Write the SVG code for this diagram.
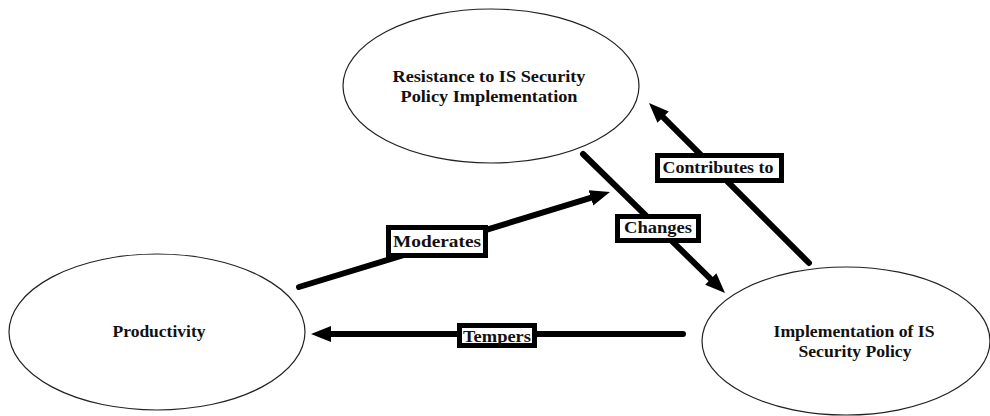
<svg xmlns="http://www.w3.org/2000/svg" width="990" height="416" viewBox="0 0 990 416">
<style>
.node{fill:#fff;stroke:#222;stroke-width:1.2}
.nt{font-family:"Liberation Serif","Times New Roman",serif;font-weight:bold;font-size:17px;fill:#111;text-anchor:middle}
.edge{stroke:#000;stroke-width:6;fill:none;stroke-linecap:round}
.lbox{fill:#fff;stroke:#000;stroke-width:5}
.lt{font-family:"Liberation Serif","Times New Roman",serif;font-weight:bold;font-size:17px;fill:#111;text-anchor:middle}
</style>
<defs>
<marker id="ah" markerUnits="userSpaceOnUse" markerWidth="22" markerHeight="18" refX="4" refY="8" orient="auto">
<path d="M0,0 L20,8 L0,16 z" fill="#000"/>
</marker>
</defs>
<rect width="990" height="416" fill="#fff"/>
<g id="node-resistance">
<ellipse class="node" cx="491" cy="86" rx="148" ry="77"/>
<text class="nt" x="489" y="82" textLength="193" lengthAdjust="spacingAndGlyphs">Resistance to IS Security</text>
<text class="nt" x="489" y="102" textLength="177" lengthAdjust="spacingAndGlyphs">Policy Implementation</text>
</g>
<g id="node-productivity">
<ellipse class="node" cx="157" cy="332" rx="148" ry="78"/>
<text class="nt" x="159" y="337" textLength="93" lengthAdjust="spacingAndGlyphs">Productivity</text>
</g>
<g id="node-implementation">
<ellipse class="node" cx="846" cy="341" rx="144" ry="74"/>
<text class="nt" x="854" y="337" textLength="161" lengthAdjust="spacingAndGlyphs">Implementation of IS</text>
<text class="nt" x="855" y="357" textLength="113" lengthAdjust="spacingAndGlyphs">Security Policy</text>
</g>
<g id="connectors">
<g id="edge-moderates">
<line class="edge" x1="299" y1="287" x2="594.7" y2="196.7" marker-end="url(#ah)"/>
<rect class="lbox" x="388.5" y="227.5" width="97" height="28"/>
<text class="lt" x="437" y="247" textLength="88" lengthAdjust="spacingAndGlyphs">Moderates</text>
</g>
<g id="edge-changes">
<line class="edge" x1="583" y1="154" x2="713.6" y2="281.8" marker-end="url(#ah)"/>
<rect class="lbox" x="617.5" y="216.5" width="81" height="24"/>
<text class="lt" x="658" y="233" textLength="68" lengthAdjust="spacingAndGlyphs">Changes</text>
</g>
<g id="edge-contributes">
<line class="edge" x1="809" y1="263" x2="660.3" y2="114.3" marker-end="url(#ah)"/>
<rect class="lbox" x="657.5" y="155.5" width="124" height="25"/>
<text class="lt" x="718" y="173" textLength="111" lengthAdjust="spacingAndGlyphs">Contributes to</text>
</g>
<g id="edge-tempers">
<line class="edge" x1="683" y1="334" x2="327" y2="334" marker-end="url(#ah)"/>
<rect class="lbox" x="459.5" y="325.5" width="75" height="20"/>
<text class="lt" x="497" y="342" textLength="68" lengthAdjust="spacingAndGlyphs">Tempers</text>
</g>
</g>
</svg>
